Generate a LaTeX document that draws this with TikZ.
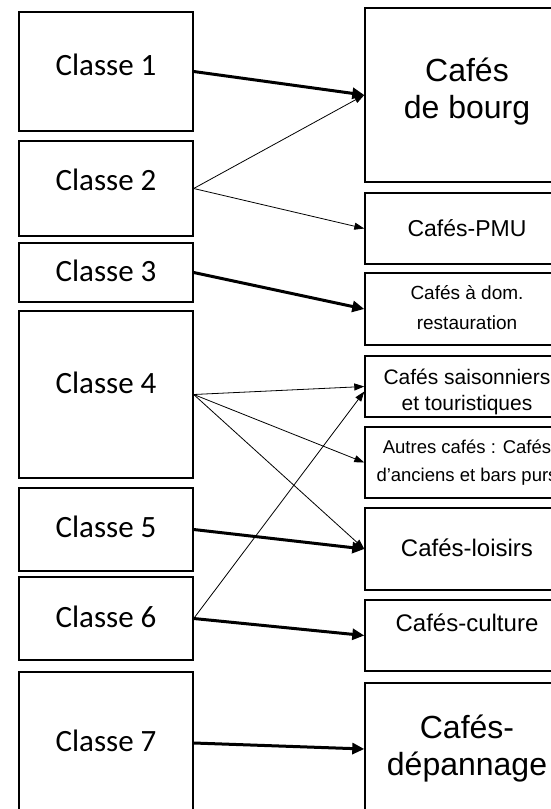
\documentclass[tikz,border=0pt]{standalone}
\usepackage{fontspec}
\setmainfont{Carlito}
\newfontfamily\arialfont{Liberation Sans}
\usetikzlibrary{arrows.meta}

\begin{document}
\begin{tikzpicture}[x=1pt, y=-1pt,
    >={Triangle[length=12pt, width=11pt]},
    classe/.style={draw, line width=1.4pt, minimum width=174pt, inner sep=0pt,
      font=\fontsize{31}{37}\selectfont},
    cafe/.style 2 args={draw, line width=1.4pt, minimum width=204pt, inner sep=0pt,
      align=center, font=\arialfont\fontsize{#1}{#2}\selectfont},
    strong/.style={->, line width=3pt},
    weak/.style={-{Triangle[length=10pt, width=7pt]}, line width=0.8pt}]

  \clip (0,0) rectangle (551,809);

  % classes
  \node[classe, minimum height=119pt, text depth=14.5pt] (c1) at (106,71.5)  {Classe 1};
  \node[classe, minimum height=95pt,  text depth=18.5pt] (c2) at (106,188.5) {Classe 2};
  \node[classe, minimum height=59pt,  text depth=4.5pt]  (c3) at (106,272.5) {Classe 3};
  \node[classe, minimum height=167pt, text depth=24.5pt] (c4) at (106,394.5) {Classe 4};
  \node[classe, minimum height=83pt,  text depth=6.5pt]  (c5) at (106,529.5) {Classe 5};
  \node[classe, minimum height=83pt,  text depth=3.5pt]  (c6) at (106,618.5) {Classe 6};
  \node[classe, minimum height=142pt, text depth=4.5pt]  (c7) at (106,743)   {Classe 7};

  % types de cafes
  \node[cafe={32}{37}, minimum height=174pt, text depth=14.4pt] (bourg) at (467,95) {Cafés\\de bourg};
  \node[cafe={23}{28}, minimum height=71pt]  (pmu)     at (467,228.5) {Cafés-PMU};
  \node[cafe={19}{30}, minimum height=72pt, text depth=4pt]  (dom) at (467,309) {Cafés à dom.\\restauration};
  \node[cafe={21}{26}, minimum height=61pt, text height=52pt] (saison) at (467,386.5) {Cafés saisonniers\\et touristiques};
  \node[cafe={18.5}{28}, minimum height=71pt] (autres) at (467,462.5) {Autres cafés : Cafés\\d’anciens et bars purs};
  \node[cafe={24}{29}, minimum height=82pt, text depth=3pt]  (loisirs) at (467,549) {Cafés-loisirs};
  \node[cafe={24}{29}, minimum height=71pt, text depth=25pt] (culture) at (467,635.5) {Cafés-culture};
  \node[cafe={32}{37}, minimum height=132pt, text depth=8.4pt] (depan) at (467,749) {Cafés-\\dépannage};

  \draw[strong] (c1.east) -- (bourg.west);
  \draw[weak] (c2.east) -- (bourg.west);
  \draw[weak] (c2.east) -- (pmu.west);
  \draw[strong] (c3.east) -- (dom.west);
  \draw[weak] (c4.east) -- (saison.west);
  \draw[weak] (c4.east) -- (autres.west);
  \draw[weak] (c4.east) -- (loisirs.west);
  \draw[strong] (c5.east) -- (loisirs.west);
  \draw[weak] (c6.east) -- ([yshift=-5pt]saison.west);
  \draw[strong] (c6.east) -- (culture.west);
  \draw[strong] (c7.east) -- (depan.west);
\end{tikzpicture}
\end{document}
